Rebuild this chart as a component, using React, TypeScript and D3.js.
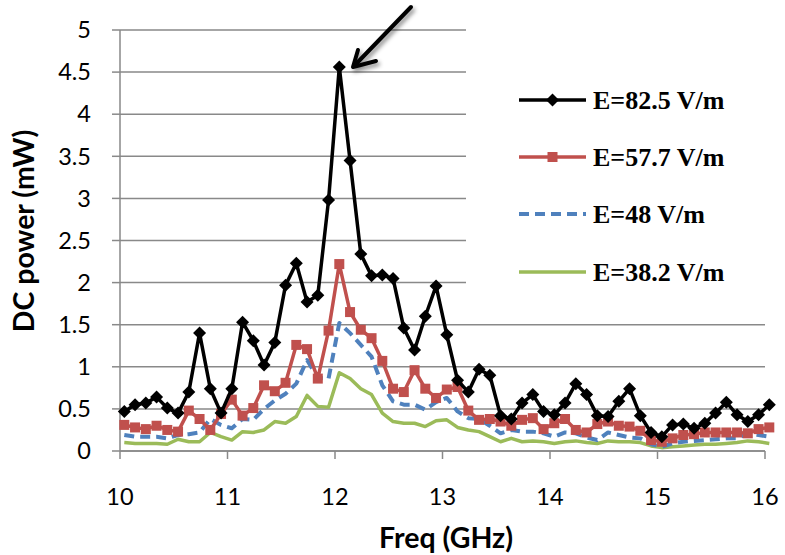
import React from "react";
import * as d3 from "d3";

const freqs = [
  10.04, 10.14, 10.24, 10.34, 10.44, 10.54, 10.64, 10.74, 10.84, 10.94,
  11.04, 11.14, 11.24, 11.34, 11.44, 11.54, 11.64, 11.74, 11.84, 11.94,
  12.04, 12.14, 12.24, 12.34, 12.44, 12.54, 12.64, 12.74, 12.84, 12.94,
  13.04, 13.14, 13.24, 13.34, 13.44, 13.54, 13.64, 13.74, 13.84, 13.94,
  14.04, 14.14, 14.24, 14.34, 14.44, 14.54, 14.64, 14.74, 14.84, 14.94,
  15.04, 15.14, 15.24, 15.34, 15.44, 15.54, 15.64, 15.74, 15.84, 15.94,
  16.04,
];

const e825 = [
  0.47, 0.55, 0.57, 0.64, 0.51, 0.45, 0.7, 1.4, 0.74, 0.45,
  0.74, 1.53, 1.31, 1.02, 1.29, 1.97, 2.23, 1.77, 1.85, 2.98,
  4.56, 3.45, 2.34, 2.08, 2.09, 2.05, 1.46, 1.2, 1.6, 1.96,
  1.38, 0.84, 0.7, 0.97, 0.9, 0.42, 0.38, 0.57, 0.67, 0.47,
  0.43, 0.57, 0.8, 0.67, 0.42, 0.41, 0.59, 0.74, 0.42, 0.22,
  0.17, 0.31, 0.32, 0.27, 0.33, 0.45, 0.58, 0.43, 0.35, 0.43,
  0.55,
];

const e577 = [
  0.31, 0.28, 0.26, 0.3, 0.25, 0.23, 0.48, 0.38, 0.25, 0.44,
  0.61, 0.42, 0.51, 0.78, 0.71, 0.81, 1.26, 1.21, 0.86, 1.43,
  2.22, 1.65, 1.44, 1.34, 1.07, 0.74, 0.7, 0.96, 0.74, 0.63,
  0.73, 0.76, 0.48, 0.37, 0.38, 0.35, 0.3, 0.37, 0.39, 0.26,
  0.33, 0.38, 0.25, 0.22, 0.32, 0.35, 0.3, 0.29, 0.24, 0.13,
  0.11, 0.15, 0.19, 0.2, 0.22, 0.22, 0.22, 0.22, 0.21, 0.26,
  0.28,
];

const e48 = [
  0.19, 0.17, 0.17, 0.17, 0.15, 0.19, 0.2, 0.22, 0.38, 0.31,
  0.27, 0.38, 0.37, 0.5, 0.6, 0.68, 0.8, 1.08, 0.87, 0.86,
  1.52, 1.4, 1.26, 1.12, 0.78, 0.59, 0.55, 0.55, 0.49, 0.58,
  0.63, 0.47, 0.39, 0.38, 0.3, 0.21, 0.25, 0.23, 0.23, 0.21,
  0.17, 0.22, 0.21, 0.16, 0.13, 0.22, 0.19, 0.16, 0.15, 0.08,
  0.05, 0.09, 0.11, 0.12, 0.13, 0.14, 0.15, 0.15, 0.21, 0.19,
  0.17,
];

const e382 = [
  0.1, 0.09, 0.09, 0.09, 0.08, 0.14, 0.11, 0.11, 0.22, 0.17,
  0.13, 0.23, 0.22, 0.25, 0.35, 0.33, 0.41, 0.66, 0.53, 0.52,
  0.93, 0.86, 0.74, 0.67, 0.45, 0.35, 0.33, 0.33, 0.29, 0.36,
  0.37, 0.28, 0.25, 0.23, 0.17, 0.11, 0.15, 0.11, 0.12, 0.11,
  0.09, 0.11, 0.12, 0.1, 0.09, 0.12, 0.11, 0.11, 0.1, 0.06,
  0.04, 0.05, 0.06, 0.07, 0.08, 0.08, 0.09, 0.1, 0.12, 0.11,
  0.09,
];

const xTicks = [10, 11, 12, 13, 14, 15, 16];
const yTicks = [0, 0.5, 1, 1.5, 2, 2.5, 3, 3.5, 4, 4.5, 5];
const yTickLabels = ["0", "0.5", "1", "1.5", "2", "2.5", "3", "3.5", "4", "4.5", "5"];
const seriesNames = ["E=82.5 V/m", "E=57.7 V/m", "E=48 V/m", "E=38.2 V/m"];
const seriesColors = ["#000000", "#C0504D", "#4F81BD", "#9BBB59"];

const W = 785;
const H = 555;
const L = 120, R = 765, T = 30, B = 451;

export default function App() {
  const x = d3.scaleLinear().domain([10, 16]).range([L, R]);
  const y = d3.scaleLinear().domain([0, 5]).range([B, T]);
  const mkLine = (vals: number[]) =>
    d3.line<number>().x((_, i) => x(freqs[i])).y((v) => y(v))(vals) || "";

  const tickFont = "Lato, 'Open Sans', sans-serif";
  const gridColor = "#898989";

  const legendY = [100, 157, 214, 272];

  return (
    <svg width={W} height={H} style={{ position: "absolute", left: 0, top: 0, background: "#fff" }}>
      <defs>
        <filter id="sh" x="-50%" y="-50%" width="200%" height="200%">
          <feDropShadow dx="2" dy="3" stdDeviation="2" floodColor="#000" floodOpacity="0.45" />
        </filter>
      </defs>
      <rect x={0} y={0} width={W} height={H} fill="#fff" />
      {yTicks.map((t) => (
        <line key={"g" + t} x1={L} x2={R} y1={y(t)} y2={y(t)} stroke={gridColor} strokeWidth={1.5} />
      ))}
      <line x1={L} x2={L} y1={T} y2={B} stroke={gridColor} strokeWidth={1.5} />
      {yTicks.map((t, i) => (
        <g key={"yt" + t}>
          <line x1={L - 8} x2={L} y1={y(t)} y2={y(t)} stroke={gridColor} strokeWidth={1.5} />
          <text x={91} y={y(t)} dy="0.35em" textAnchor="end" fontFamily={tickFont} fontSize={23.5} fill="#000">
            {yTickLabels[i]}
          </text>
        </g>
      ))}
      <line x1={L} x2={R} y1={B} y2={B} stroke={gridColor} strokeWidth={1.5} />
      {xTicks.map((t) => (
        <g key={"xt" + t}>
          <line x1={x(t)} x2={x(t)} y1={B} y2={B + 8} stroke={gridColor} strokeWidth={1.5} />
          <text x={x(t)} y={505} textAnchor="middle" fontFamily={tickFont} fontSize={23.5} fill="#000">
            {t}
          </text>
        </g>
      ))}
      <text x={446} y={548} textAnchor="middle" fontFamily={tickFont} fontWeight="bold" fontSize={28.5} fill="#000">
        Freq (GHz)
      </text>
      <text
        transform={`translate(34,231) rotate(-90)`}
        textAnchor="middle"
        fontFamily={tickFont}
        fontWeight="bold"
        fontSize={28.5}
        fill="#000"
      >
        DC power (mW)
      </text>
      <rect x={466} y={24} width={310} height={277} fill="#fff" />
      <path d={mkLine(e382)} fill="none" stroke={seriesColors[3]} strokeWidth={3.5} strokeLinejoin="round" />
      <path d={mkLine(e48)} fill="none" stroke={seriesColors[2]} strokeWidth={4} strokeDasharray="10 6" strokeLinejoin="round" />
      <path d={mkLine(e577)} fill="none" stroke={seriesColors[1]} strokeWidth={3.5} strokeLinejoin="round" />
      {e577.map((v, i) => (
        <rect key={"r" + i} x={x(freqs[i]) - 5} y={y(v) - 5} width={10} height={10} fill={seriesColors[1]} />
      ))}
      <path d={mkLine(e825)} fill="none" stroke={seriesColors[0]} strokeWidth={3.5} strokeLinejoin="round" />
      {e825.map((v, i) => {
        const cx = x(freqs[i]);
        const cy = y(v);
        const s = 6.5;
        return (
          <path key={"b" + i} d={`M${cx},${cy - s}L${cx + s},${cy}L${cx},${cy + s}L${cx - s},${cy}Z`} fill="#000" />
        );
      })}
      {seriesNames.map((n, i) => {
        const ly = legendY[i];
        return (
          <g key={"lg" + i}>
            <line
              x1={519}
              x2={586}
              y1={ly}
              y2={ly}
              stroke={seriesColors[i]}
              strokeWidth={i === 2 ? 4 : 3.5}
              strokeDasharray={i === 2 ? "10 6" : undefined}
            />
            {i === 0 && <path d={`M552.5,${ly - 6.5}L559,${ly}L552.5,${ly + 6.5}L546,${ly}Z`} fill="#000" />}
            {i === 1 && <rect x={547.5} y={ly - 5} width={10} height={10} fill={seriesColors[1]} />}
            <text
              x={593}
              y={ly}
              dy="0.35em"
              fontFamily="'Liberation Serif', 'Times New Roman', serif"
              fontWeight="bold"
              fontSize={26}
              fill="#000"
            >
              {n}
            </text>
          </g>
        );
      })}
      <g filter="url(#sh)" stroke="#000" strokeWidth={4} strokeLinecap="round" strokeLinejoin="round" fill="none">
        <line x1={411} y1={7} x2={355} y2={65} />
        <path d="M358,50 L353,67 L376,61" />
      </g>
    </svg>
  );
}
